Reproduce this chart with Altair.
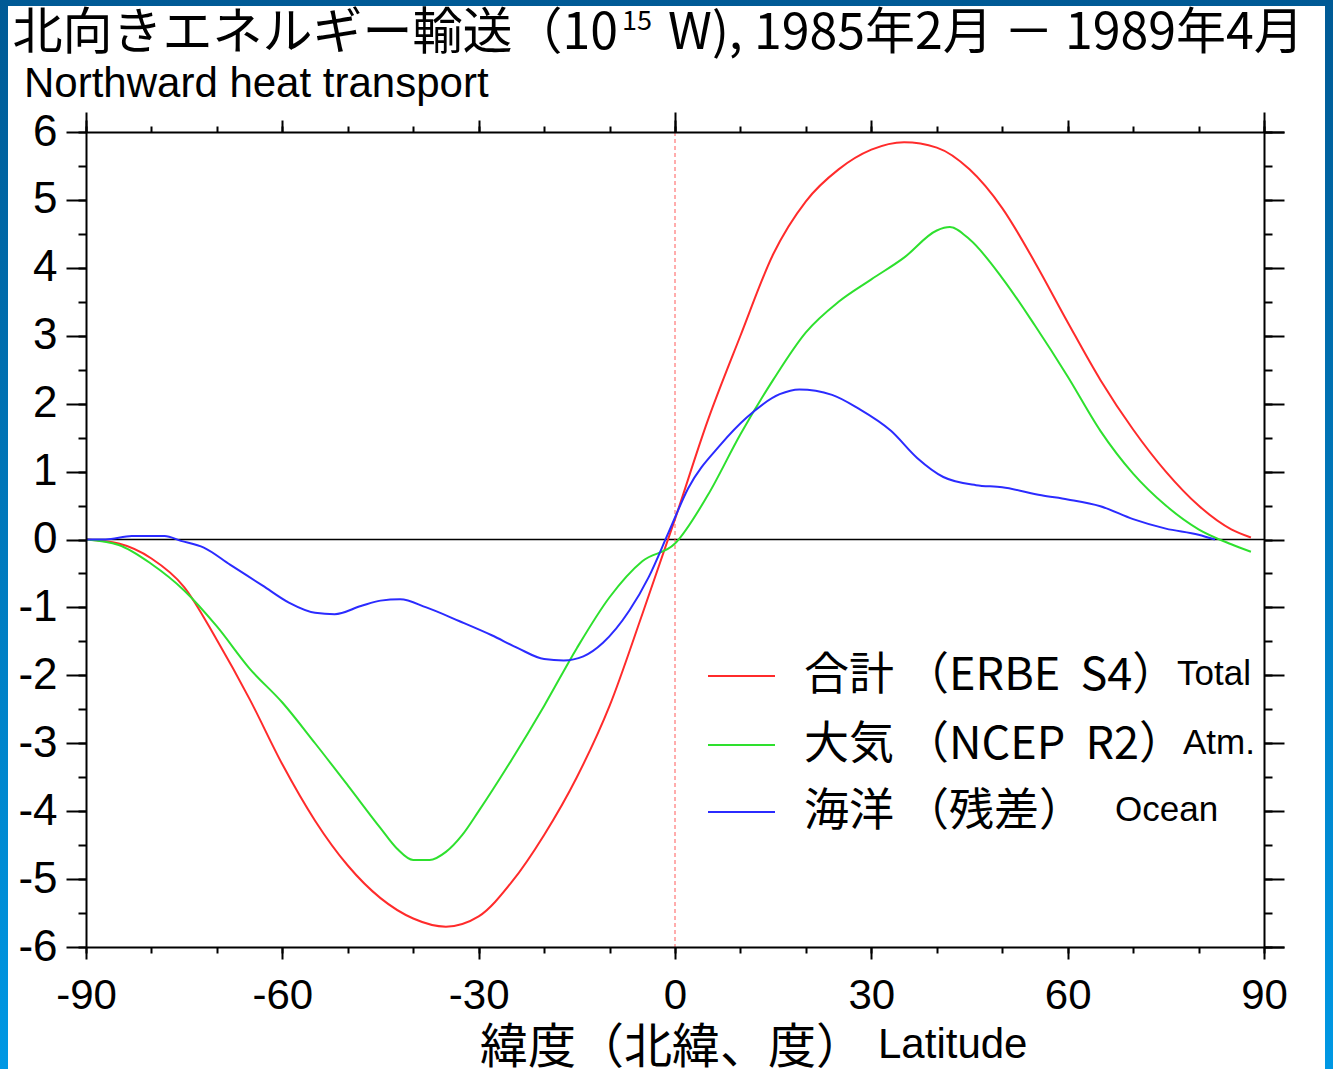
import altair as alt
import pandas as pd

# ---------------- data ----------------
lat_total = [-90, -85, -80, -75, -70, -65, -60, -55, -50, -45, -40, -35, -30, -25, -20, -15, -10, -5,
             0, 5, 10, 15, 20, 25, 30, 35, 40, 45, 50, 55, 60, 65, 70, 75, 80, 85, 88]
val_total = [0.0, -0.06, -0.28, -0.70, -1.48, -2.35, -3.31, -4.14, -4.80, -5.28, -5.58, -5.70, -5.55,
             -5.05, -4.35, -3.50, -2.45, -1.10, 0.30, 1.75, 3.00, 4.20, 4.98, 5.45, 5.74, 5.85, 5.77,
             5.45, 4.88, 4.08, 3.20, 2.35, 1.62, 1.00, 0.50, 0.15, 0.03]

lat_atm = [-90, -85, -80, -75, -70, -65, -60, -55, -50, -45, -42.5, -40, -37.5, -35, -32.5, -30, -25,
           -20, -15, -10, -5, 0, 5, 10, 15, 20, 25, 30, 35, 40, 42, 45, 50, 55, 60, 65, 70, 75, 80,
           85, 88]
val_atm = [0.0, -0.08, -0.36, -0.75, -1.28, -1.90, -2.40, -3.00, -3.62, -4.25, -4.55, -4.72, -4.72,
           -4.60, -4.35, -4.00, -3.25, -2.45, -1.60, -0.85, -0.32, -0.06, 0.65, 1.55, 2.35, 3.05,
           3.50, 3.83, 4.15, 4.55, 4.60, 4.42, 3.85, 3.15, 2.40, 1.60, 0.97, 0.50, 0.15, -0.07, -0.18]

lat_ocean = [-90, -87, -83, -78, -75.5, -72, -68, -63, -59, -55, -52, -48, -45, -42, -38, -33, -28,
             -24, -20, -17, -14, -11, -7, -4, -1, 2, 7, 11, 16, 19, 24, 28, 33, 37, 41, 46, 50, 56,
             60, 65, 70, 75, 80, 82.5]
val_ocean = [0.0, 0.0, 0.05, 0.05, -0.02, -0.12, -0.37, -0.68, -0.93, -1.08, -1.10, -0.98, -0.90,
             -0.88, -1.00, -1.20, -1.41, -1.60, -1.76, -1.78, -1.72, -1.52, -1.05, -0.55, 0.10, 0.75,
             1.40, 1.80, 2.14, 2.21, 2.13, 1.93, 1.60, 1.20, 0.92, 0.80, 0.77, 0.65, 0.59, 0.49, 0.30,
             0.16, 0.07, 0.0]

series_names = ["合計", "大気", "海洋"]
series_labels_jp = ["合計 （ERBE\u00a0\u00a0S4）", "大気 （NCEP\u00a0\u00a0R2）", "海洋 （残差）"]
series_labels_en = ["Total", "Atm.", "Ocean"]
series_colors = ["#ff2b2b", "#2ee02e", "#2b2bff"]

x_major = [-90, -60, -30, 0, 30, 60, 90]
x_minor = list(range(-90, 91, 10))
x_top_long = [-90, 0, 90]
y_major = [-6, -5, -4, -3, -2, -1, 0, 1, 2, 3, 4, 5, 6]
y_minor = [v / 2 for v in range(-12, 13)]

title_jp_a = "北向きエネルギー輸送（10"
title_jp_sup = "15"
title_jp_b = "W), 1985年2月 － 1989年4月"
title_en = "Northward heat transport"
xtitle_jp = "緯度（北緯、度）"
xtitle_en = "Latitude"

# ---------------- build tables ----------------
rows = []
for name, lats, vals in [(series_names[0], lat_total, val_total),
                         (series_names[1], lat_atm, val_atm),
                         (series_names[2], lat_ocean, val_ocean)]:
    for la, va in zip(lats, vals):
        rows.append({"series": name, "lat": la, "val": va})
df = pd.DataFrame(rows)

W, H = 1178, 815
PL, PT = 86, 132
TOTW, TOTH = 1333, 1069

JP = "Noto Sans CJK JP"
EN = "Liberation Sans"

xscale = alt.Scale(domain=[-90, 90], nice=False, zero=False)
yscale = alt.Scale(domain=[-6, 6], nice=False, zero=False)

one = pd.DataFrame({"a": [0]})

# background frame
bg = alt.Chart(one).mark_rect(
    fill=alt.Gradient(gradient="linear", x1=0, x2=0, y1=0, y2=1,
                      stops=[alt.GradientStop(offset=0, color="#005a95"),
                             alt.GradientStop(offset=1, color="#0098e4")])
).encode(x=alt.value(-PL), x2=alt.value(TOTW - PL), y=alt.value(-PT), y2=alt.value(TOTH - PT))

panel = alt.Chart(one).mark_rect(fill="white").encode(
    x=alt.value(8 - PL), x2=alt.value(1325 - PL), y=alt.value(6 - PT), y2=alt.value(TOTH - PT))

def noaxis_layer(xaxis, yaxis):
    return alt.Chart(df).mark_point(opacity=0).encode(
        x=alt.X("lat:Q", scale=xscale, axis=xaxis),
        y=alt.Y("val:Q", scale=yscale, axis=yaxis),
    )

common = dict(grid=False, domainColor="black", tickColor="black", tickWidth=2, domainWidth=2, zindex=1)

# main axes (bottom/left with labels)
ax_main = noaxis_layer(
    alt.Axis(orient="bottom", values=x_major, tickSize=12, labelFontSize=42, labelFont=EN,
             labelColor="black", labelPadding=16, title=None, labelFlush=False, labelOverlap=False,
             labelExpr="'' + datum.value", **common),
    alt.Axis(orient="left", values=y_major, tickSize=20, labelFontSize=44, labelFont=EN,
             labelColor="black", labelPadding=9, title=None, labelOverlap=False,
             labelExpr="'' + datum.value", **common),
)
ax_minor_bl = noaxis_layer(
    alt.Axis(orient="bottom", values=x_minor, tickSize=6, labels=False, domain=False, title=None, **common),
    alt.Axis(orient="left", values=y_minor, tickSize=8, labels=False, domain=False, title=None, **common),
)
ax_top_right = noaxis_layer(
    alt.Axis(orient="top", values=x_major, tickSize=12, labels=False, title=None, **common),
    alt.Axis(orient="right", values=y_major, tickSize=20, labels=False, title=None, **common),
)
ax_minor_tr = noaxis_layer(
    alt.Axis(orient="top", values=x_minor, tickSize=6, labels=False, domain=False, title=None, **common),
    alt.Axis(orient="right", values=y_minor, tickSize=8, labels=False, domain=False, title=None, **common),
)
ax_top_long = noaxis_layer(
    alt.Axis(orient="top", values=x_top_long, tickSize=20, labels=False, domain=False, title=None, **common),
    alt.Axis(orient="right", values=[6, -6], tickSize=20, labels=False, domain=False, title=None, **common),
)

zero_line = alt.Chart(one).mark_rule(color="black", strokeWidth=1.5).encode(
    y=alt.Y("z:Q", scale=yscale), x=alt.value(0), x2=alt.value(W)
).transform_calculate(z="0")

eq_line = alt.Chart(one).mark_rule(color="#ff5a5a", strokeWidth=1, strokeDash=[4, 3]).encode(
    x=alt.X("z:Q", scale=xscale), y=alt.value(0), y2=alt.value(H)
).transform_calculate(z="0")

lines = alt.Chart(df).mark_line(strokeWidth=2, interpolate="monotone").encode(
    x=alt.X("lat:Q", scale=xscale, axis=None),
    y=alt.Y("val:Q", scale=yscale, axis=None),
    color=alt.Color("series:N", scale=alt.Scale(domain=series_names, range=series_colors), legend=None),
    detail="series:N",
)

layers = [bg, panel, zero_line, eq_line, lines, ax_main, ax_minor_bl, ax_top_right, ax_minor_tr, ax_top_long]

def txt(text, x, y, font, size, align="left"):
    return alt.Chart(one).mark_text(text=text, font=font, fontSize=size, align=align,
                                    baseline="middle", color="black").encode(
        x=alt.value(x - PL), y=alt.value(y - PT))

# titles
layers.append(txt(title_jp_a, 618, 34, JP, 50, align="right"))
layers.append(txt(title_jp_sup, 622, 22, JP, 27))
layers.append(txt(title_jp_b, 668, 34, JP, 50))
layers.append(txt(title_en, 24, 84, EN, 42))
layers.append(txt(xtitle_jp, 480, 1049, JP, 48))
layers.append(txt(xtitle_en, 878, 1045, EN, 42))

# legend
leg_y = [676, 745, 812]
leg_en_x = [1177, 1183, 1115]
for i in range(3):
    ly = leg_y[i] - PT
    layers.append(alt.Chart(one).mark_rule(color=series_colors[i], strokeWidth=2).encode(
        x=alt.value(708 - PL), x2=alt.value(775 - PL), y=alt.value(ly)))
    layers.append(txt(series_labels_jp[i], 804, leg_y[i], JP, 45))
    layers.append(txt(series_labels_en[i], leg_en_x[i], leg_y[i] - 2, EN, 35))

chart = alt.layer(*layers).resolve_axis(x="independent", y="independent").properties(
    width=W, height=H,
    autosize=alt.AutoSizeParams(type="none"),
    padding={"left": PL, "top": PT, "right": TOTW - PL - W, "bottom": TOTH - PT - H},
    background="#0078c0",
).configure_view(strokeWidth=0)

chart.save("out.html", embed_options={"renderer": "svg", "actions": False})
